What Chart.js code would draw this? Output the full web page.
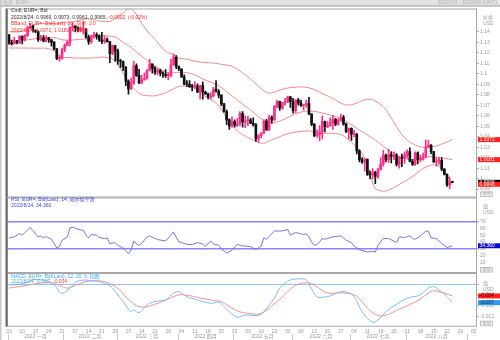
<!DOCTYPE html>
<html lang="zh">
<head>
<meta charset="UTF-8">
<title>EUR= 每天</title>
<script src="https://cdn.jsdelivr.net/npm/chart.js"></script>
<style>
  body { margin: 0; background: #fff; }
  #wrap { position: relative; width: 500px; height: 340px; overflow: hidden; background: #fff; }
  #wrap canvas { position: absolute; left: 0; }
</style>
</head>
<body>
<div id="wrap">
  <canvas id="priceCanvas" width="500" height="198" style="top:0"></canvas>
  <canvas id="rsiCanvas" width="500" height="77" style="top:197px"></canvas>
  <canvas id="macdCanvas" width="500" height="67" style="top:273px"></canvas>
</div>
<script>
// ---- daily EUR= bars, 2022/1/3 .. 2022/8/24 (index 0 = Jan 3, weekdays only) ----
const opens = [
  1.1370,1.1297,1.1287,1.1312,1.1296,1.1358,1.1326,1.1367,1.1440,1.1455,1.1412,1.1404,1.1325,1.1344,1.1311,1.1343,1.1325,1.1302,1.1238,1.1145,1.1147,
  1.1234,1.1271,1.1302,1.1441,1.1455,1.1440,1.1417,1.1425,1.1426,1.1349,1.1307,1.1358,1.1373,1.1360,1.1322,1.1307,1.1327,1.1307,1.1191,1.1270,
  1.1219,1.1124,1.1117,1.1065,1.0929,1.0855,1.0904,1.1077,1.0985,1.0912,1.0941,1.0955,1.1034,1.1092,1.1050,1.1015,1.1031,1.1006,1.0996,1.0983,1.0985,1.1087,1.1160,
  1.1067,1.1046,1.0970,1.0903,1.0900,1.0878,1.0875,1.0886,1.0826,1.0890,1.0825,1.0810,1.0780,1.0788,1.0855,1.0834,1.0797,1.0713,1.0640,1.0560,1.0500,
  1.0545,1.0510,1.0525,1.0620,1.0540,1.0550,1.0560,1.0530,1.0515,1.0380,1.0410,1.0435,1.0550,1.0465,1.0585,1.0560,1.0690,1.0735,1.0675,1.0725,1.0735,1.0780,
  1.0735,1.0650,1.0750,1.0720,1.0695,1.0705,1.0715,1.0615,1.0520,1.0410,1.0420,1.0445,1.0545,1.0495,1.0505,1.0535,1.0565,1.0520,1.0555,1.0585,1.0520,1.0445,
  1.0480,1.0425,1.0425,1.0265,1.0180,1.0160,1.0185,1.0040,1.0035,1.0060,1.0020,1.0085,1.0140,1.0225,1.0180,1.0230,1.0210,1.0225,1.0135,1.0200,1.0195,
  1.0225,1.0260,1.0165,1.0135,1.0245,1.0180,1.0195,1.0210,1.0300,1.0320,1.0255,1.0160,1.0170,1.0175,1.0090,1.0040,0.9940,0.9969
];
const highs = [
  1.1376,1.1321,1.1347,1.1319,1.1365,1.1363,1.1375,1.1454,1.1482,1.1465,1.1420,1.1410,1.1367,1.1368,1.1363,1.1345,1.1330,1.1308,1.1240,1.1174,1.1245,
  1.1285,1.1316,1.1451,1.1483,1.1460,1.1448,1.1448,1.1495,1.1432,1.1370,1.1367,1.1395,1.1390,1.1373,1.1395,1.1360,1.1344,1.1310,1.1274,1.1270,
  1.1235,1.1137,1.1122,1.1070,1.0943,1.0960,1.1121,1.1095,1.1043,1.0986,1.1010,1.1040,1.1137,1.1095,1.1070,1.1050,1.1045,1.1020,1.1040,1.1010,1.1137,1.1185,1.1175,
  1.1075,1.1050,1.0990,1.0935,1.0935,1.0900,1.0925,1.0905,1.0890,1.0924,1.0835,1.0815,1.0820,1.0870,1.0935,1.0850,1.0800,1.0718,1.0655,1.0570,1.0590,
  1.0560,1.0575,1.0640,1.0640,1.0600,1.0595,1.0575,1.0580,1.0525,1.0420,1.0440,1.0560,1.0565,1.0605,1.0600,1.0700,1.0750,1.0740,1.0730,1.0765,1.0787,1.0785,
  1.0765,1.0755,1.0765,1.0750,1.0710,1.0750,1.0775,1.0620,1.0525,1.0465,1.0505,1.0600,1.0550,1.0545,1.0580,1.0605,1.0575,1.0570,1.0615,1.0605,1.0530,1.0485,
  1.0485,1.0460,1.0430,1.0275,1.0200,1.0195,1.0190,1.0075,1.0095,1.0070,1.0100,1.0200,1.0270,1.0235,1.0280,1.0255,1.0255,1.0240,1.0210,1.0235,1.0255,
  1.0275,1.0295,1.0185,1.0255,1.0255,1.0225,1.0245,1.0368,1.0365,1.0325,1.0260,1.0200,1.0200,1.0200,1.0095,1.0045,1.0015,0.9973
];
const lows = [
  1.1281,1.1272,1.1283,1.1285,1.1287,1.1286,1.1314,1.1354,1.1430,1.1398,1.1392,1.1310,1.1315,1.1305,1.1305,1.1300,1.1264,1.1228,1.1135,1.1121,1.1140,
  1.1212,1.1265,1.1265,1.1412,1.1400,1.1400,1.1400,1.1380,1.1340,1.1280,1.1290,1.1340,1.1330,1.1310,1.1287,1.1290,1.1302,1.1106,1.1181,1.1120,
  1.1090,1.1060,1.1030,1.0886,1.0806,1.0850,1.0900,1.0975,1.0905,1.0905,1.0940,1.0950,1.1025,1.1005,1.0995,1.0990,1.0980,1.0965,1.0965,1.0945,1.0970,1.1080,1.1050,
  1.1030,1.0965,1.0895,1.0880,1.0870,1.0837,1.0860,1.0820,1.0760,1.0757,1.0800,1.0760,1.0760,1.0780,1.0825,1.0770,1.0695,1.0635,1.0515,1.0470,1.0490,
  1.0490,1.0495,1.0505,1.0490,1.0485,1.0505,1.0525,1.0500,1.0355,1.0349,1.0390,1.0430,1.0460,1.0460,1.0530,1.0555,1.0675,1.0650,1.0660,1.0700,1.0725,1.0680,
  1.0625,1.0630,1.0700,1.0690,1.0655,1.0680,1.0610,1.0505,1.0400,1.0395,1.0360,1.0380,1.0445,1.0485,1.0500,1.0470,1.0505,1.0510,1.0545,1.0510,1.0440,1.0380,
  1.0365,1.0400,1.0235,1.0160,1.0145,1.0070,1.0030,0.9998,0.9998,0.9952,1.0005,1.0080,1.0120,1.0160,1.0155,1.0150,1.0180,1.0120,1.0100,1.0115,1.0145,
  1.0195,1.0160,1.0125,1.0125,1.0140,1.0160,1.0175,1.0200,1.0295,1.0235,1.0155,1.0120,1.0135,1.0075,1.0035,0.9925,0.9901,0.9961
];
const closes = [
  1.1297,1.1287,1.1312,1.1296,1.1358,1.1326,1.1367,1.1440,1.1455,1.1412,1.1404,1.1325,1.1344,1.1311,1.1343,1.1325,1.1302,1.1238,1.1145,1.1147,1.1234,
  1.1271,1.1302,1.1441,1.1455,1.1440,1.1417,1.1425,1.1426,1.1349,1.1307,1.1358,1.1373,1.1360,1.1322,1.1307,1.1327,1.1307,1.1191,1.1270,1.1219,
  1.1124,1.1117,1.1065,1.0929,1.0855,1.0904,1.1077,1.0985,1.0912,1.0941,1.0955,1.1034,1.1092,1.1050,1.1015,1.1031,1.1006,1.0996,1.0983,1.0985,1.1087,1.1160,1.1067,
  1.1046,1.0970,1.0903,1.0900,1.0878,1.0875,1.0886,1.0826,1.0890,1.0825,1.0810,1.0780,1.0788,1.0855,1.0834,1.0797,1.0713,1.0640,1.0560,1.0500,1.0545,
  1.0510,1.0525,1.0620,1.0540,1.0550,1.0560,1.0530,1.0515,1.0380,1.0410,1.0435,1.0550,1.0465,1.0585,1.0560,1.0690,1.0735,1.0675,1.0725,1.0735,1.0780,1.0735,
  1.0650,1.0750,1.0720,1.0695,1.0705,1.0715,1.0615,1.0520,1.0410,1.0420,1.0445,1.0545,1.0495,1.0505,1.0535,1.0565,1.0520,1.0555,1.0585,1.0520,1.0445,1.0480,
  1.0425,1.0425,1.0265,1.0180,1.0160,1.0185,1.0040,1.0035,1.0060,1.0020,1.0085,1.0140,1.0225,1.0180,1.0230,1.0210,1.0225,1.0135,1.0200,1.0195,1.0225,
  1.0260,1.0165,1.0135,1.0245,1.0180,1.0195,1.0210,1.0300,1.0320,1.0255,1.0160,1.0170,1.0175,1.0090,1.0040,0.9940,0.9967,0.9965
];

// Bollinger (20, 2.0) read at these bar indices
const bandDays = [0,5,10,15,18,20,23,25,28,30,33,35,38,40,43,45,47,50,53,55,58,60,62,64,67,70,73,75,78,80,83,85,88,91,94,96,98,101,104,107,110,113,116,119,122,125,128,131,133,136,138,141,143,146,148,150,153,156,158,161,164,167];
const bandUpper = [1.1400,1.1405,1.1470,1.1480,1.1480,1.1490,1.1485,1.1500,1.1520,1.1525,1.1510,1.1500,1.1500,1.1530,1.1580,1.1620,1.1600,1.1480,1.1380,1.1330,1.1240,1.1200,1.1190,1.1150,1.1140,1.1120,1.1110,1.1105,1.1100,1.1090,1.1080,1.1060,1.1010,1.0950,1.0880,1.0840,1.0815,1.0835,1.0860,1.0870,1.0875,1.0867,1.0840,1.0800,1.0766,1.0720,1.0702,1.0720,1.0745,1.0757,1.0740,1.0686,1.0620,1.0495,1.0420,1.0368,1.0320,1.0299,1.0300,1.0311,1.0340,1.0372];
const bandMid = [1.1320,1.1318,1.1335,1.1345,1.1340,1.1325,1.1320,1.1325,1.1330,1.1335,1.1360,1.1365,1.1360,1.1350,1.1300,1.1270,1.1230,1.1165,1.1110,1.1070,1.1030,1.1010,1.1010,1.1015,1.1010,1.0990,1.0950,1.0930,1.0900,1.0870,1.0810,1.0770,1.0710,1.0655,1.0590,1.0555,1.0528,1.0540,1.0570,1.0610,1.0635,1.0645,1.0638,1.0620,1.0600,1.0575,1.0530,1.0480,1.0450,1.0400,1.0368,1.0310,1.0273,1.0225,1.0200,1.0185,1.0177,1.0185,1.0209,1.0205,1.0195,1.0181];
const bandLower = [1.1246,1.1246,1.1244,1.1240,1.1200,1.1160,1.1155,1.1150,1.1150,1.1150,1.1155,1.1160,1.1150,1.1120,1.1007,1.0920,1.0860,1.0800,1.0790,1.0790,1.0810,1.0830,1.0855,1.0880,1.0880,1.0860,1.0800,1.0770,1.0720,1.0660,1.0540,1.0480,1.0420,1.0380,1.0345,1.0337,1.0360,1.0390,1.0420,1.0440,1.0450,1.0455,1.0440,1.0432,1.0432,1.0420,1.0368,1.0300,1.0241,1.0040,0.9907,0.9880,0.9891,0.9930,0.9960,0.9987,1.0040,1.0098,1.0120,1.0130,1.0070,0.9946];

// RSI (14, Wilder)
const rsiDays = [0,2,4,5,7,8,9,11,12,13,14,16,18,19,20,22,23,24,25,27,28,29,30,31,33,34,36,37,38,40,41,43,44,45,46,47,48,49,50,52,53,54,56,59,61,62,63,64,67,69,71,73,74,76,77,79,80,82,84,86,88,89,91,93,95,96,97,98,100,102,103,105,106,108,109,111,112,113,114,115,116,117,118,119,122,125,127,129,130,132,133,135,137,138,139,141,143,144,146,147,149,151,152,153,155,157,158,159,161,163,165,166,167];
const rsiValues = [46,47.5,52.5,50,58,61.5,57,47.5,49,46,48,44,31,33,42.5,47.5,61,62,60,58,57.5,50,46,51,50,46.5,45,46,37.5,39,35,31,27,22.5,28,41.5,37,35,38,47.5,49,47,43.5,41.5,50,55,47,40,36.5,36,39,37,33.5,41.5,37,35,30,23.5,27.5,36.5,34,34,33,28.5,34,46,44,48,56.5,56,56.5,58.5,50,54,53,51,52,47.5,40,35,36,40,45,44,47.5,49,42.5,39,34,28.5,27.5,25,26,25,35,45,45,43,39,47.5,46.5,49,45,44,49,56,56,46,45,38,31.5,33,34.36];
const rsiLevels = [70, 30];

// MACD (12, 26, 9)
const macdDays = [0,3,6,9,12,15,17,18,19,20,21,23,25,27,29,31,34,37,39,41,43,45,46,47,49,52,54,57,59,62,64,67,70,72,76,79,81,83,86,89,93,95,97,100,102,104,106,109,112,114,116,118,121,125,128,130,132,134,137,139,142,145,150,155,158,160,162,165,167];
const macdValues = [-0.0002,-0.0001,0.0005,0.0017,0.0017,0.0010,-0.0002,-0.0014,-0.0029,-0.0033,-0.0030,-0.0014,0.0008,0.0014,0.0016,0.0013,0.0010,0.0000,-0.0014,-0.0039,-0.0065,-0.0092,-0.0102,-0.0095,-0.0105,-0.0077,-0.0066,-0.0061,-0.0058,-0.0033,-0.0027,-0.0046,-0.0055,-0.0061,-0.0070,-0.0067,-0.0083,-0.0102,-0.0122,-0.0114,-0.0116,-0.0111,-0.0089,-0.0051,-0.0014,0.0005,0.0016,0.0020,0.0016,-0.0018,-0.0046,-0.0048,-0.0043,-0.0027,-0.0032,-0.0046,-0.0083,-0.0114,-0.0140,-0.0132,-0.0102,-0.0080,-0.0052,-0.0039,-0.0014,-0.0009,-0.0021,-0.0046,-0.0068];
const signalDays = [0,6,10,15,18,20,22,25,29,33,36,39,42,44,47,49,52,54,57,59,62,64,68,72,76,80,84,87,91,94,97,99,102,105,108,111,114,117,120,125,130,133,135,138,140,143,146,150,155,158,160,163,165,167];
const signalValues = [-0.0014,-0.0005,0.0002,0.0006,0.0000,-0.0009,-0.0014,-0.0004,0.0010,0.0013,0.0010,-0.0002,-0.0024,-0.0047,-0.0072,-0.0083,-0.0083,-0.0077,-0.0067,-0.0058,-0.0046,-0.0039,-0.0042,-0.0051,-0.0058,-0.0065,-0.0088,-0.0102,-0.0109,-0.0110,-0.0097,-0.0080,-0.0055,-0.0027,-0.0004,0.0005,0.0002,-0.0016,-0.0032,-0.0032,-0.0039,-0.0065,-0.0088,-0.0111,-0.0117,-0.0111,-0.0097,-0.0080,-0.0054,-0.0032,-0.0024,-0.0030,-0.0036,-0.0043];

// axis labels
const weekLabels = ['03','10','17','24','31','07','14','21','28','07','14','21','28','04','11','18','25','02','09','16','23','30','06','13','20','27','04','11','18','25','01','08','15','22','29','05'];
const monthLabels = ['2022 一月','2022 二月','2022 三月','2022 四月','2022 五月','2022 六月','2022 七月','2022 八月'];
const monthStarts = [0,21,41,64,85,107,129,150,173];
const priceTicks = [0.99,1.00,1.01,1.02,1.03,1.04,1.05,1.06,1.07,1.08,1.09,1.10,1.11,1.12,1.13,1.14];
const rsiTicks = [10,20,30,40,50,60,70];
const macdTicks = [-0.012,-0.008,-0.004];
const lastDate = '2022/8/24';

// ---- look ----
const FONT = "'Liberation Sans', 'Noto Sans CJK SC', sans-serif";
const X_MIN = -0.75, X_MAX = 176.3;
const AXIS_W = 23;
const UP = '#ff2d8c', DOWN = '#111111';
const BAND = '#f48a84';
const GREY_TXT = '#9a9a9a';

const pts = (xs, ys) => xs.map((x, i) => ({ x, y: ys[i] }));
const candleColors = closes.map((c, i) => c >= opens[i] ? UP : DOWN);
const last = a => a[a.length - 1];

function fixAxis(scale) {
  scale.width = AXIS_W;
  scale.paddingTop = 0;
  scale.paddingBottom = 0;
}

function yAxis(min, max, ticks, fmt) {
  return {
    position: 'right', min, max,
    afterBuildTicks: s => { s.ticks = ticks.map(v => ({ value: v })); },
    afterFit: fixAxis,
    grid: { drawOnChartArea: false, tickLength: 2, color: '#b5b5b5' },
    border: { display: false },
    ticks: { autoSkip: false, padding: 1, color: GREY_TXT, font: { size: 5, family: FONT }, callback: fmt }
  };
}

function xAxis(show) {
  return {
    type: 'linear', min: X_MIN, max: X_MAX, offset: false, display: show,
    grid: { display: false }, border: { display: false }
  };
}

function drawRuns(ctx, x, y, runs) {
  for (const [text, color] of runs) {
    ctx.fillStyle = color;
    ctx.fillText(text, x, y);
    x += ctx.measureText(text).width;
  }
}

// frame, captions, unit title, value badges and the small 自动 button of each pane
const panelDecor = {
  id: 'panelDecor',
  afterDraw(chart, args, o) {
    const { ctx, chartArea: a } = chart;
    const ys = chart.scales.y;
    ctx.save();
    if (o.topBar) {
      ctx.fillStyle = '#e3e3e3';
      ctx.fillRect(0, 0, 500, 6);
      ctx.fillStyle = '#9a9a9a';
      ctx.fillRect(0, 5.5, 500, 1);
      ctx.font = `5px ${FONT}`;
      ctx.textBaseline = 'middle';
      ctx.fillStyle = '#b0b0b0';
      ctx.textAlign = 'left';
      ctx.fillText(o.topBar[0], 3, 3);
      ctx.textAlign = 'right';
      ctx.fillText(o.topBar[1], 497, 3);
      ctx.textAlign = 'left';
    }
    ctx.strokeStyle = '#a8a8a8';
    ctx.lineWidth = 1;
    ctx.strokeRect(a.left + 0.5, a.top + 0.5, a.right - a.left - 1, a.bottom - a.top - 1);
    ctx.fillStyle = '#6a6a6a';
    ctx.fillRect(a.left - 1.5, a.top, 2, a.bottom - a.top);
    ctx.fillStyle = '#c8c8c8';
    ctx.fillRect(0, 0, 1.5, chart.height);

    ctx.font = `5px ${FONT}`;
    ctx.textBaseline = 'middle';
    o.captions.forEach((runs, i) => drawRuns(ctx, a.left + 4, a.top + o.capTop + i * o.capStep, runs));

    ctx.fillStyle = GREY_TXT;
    ctx.fillText(o.unit[0], a.right + 6, a.top + o.unitTop);
    ctx.fillText(o.unit[1], a.right + 6, a.top + o.unitTop + 6);

    for (const b of o.badges) {
      const y = ys.getPixelForValue(b.value);
      ctx.fillStyle = b.bg;
      ctx.fillRect(a.right + 1, y - 2.5, AXIS_W - 1, 5);
      ctx.fillStyle = b.fg;
      ctx.fillText(b.text, a.right + 2.5, y + 0.2);
    }

    ctx.fillStyle = '#eeeeee';
    ctx.fillRect(a.right + 3, a.bottom - 6, 13, 5.5);
    ctx.strokeStyle = '#c4c4c4';
    ctx.strokeRect(a.right + 3.5, a.bottom - 5.5, 12, 4.5);
    ctx.fillStyle = '#a0a0a0';
    ctx.font = `4px ${FONT}`;
    ctx.fillText('自动', a.right + 5.5, a.bottom - 3.2);
    ctx.restore();
  }
};

// month row under the date ticks
const monthRow = {
  id: 'monthRow',
  afterDraw(chart) {
    const { ctx, chartArea: a } = chart;
    const xs = chart.scales.x;
    ctx.save();
    ctx.strokeStyle = '#c8c8c8';
    ctx.lineWidth = 1;
    ctx.font = `5px ${FONT}`;
    ctx.fillStyle = GREY_TXT;
    ctx.textAlign = 'center';
    ctx.textBaseline = 'middle';
    const edge = i => xs.getPixelForValue(monthStarts[i] - 0.5);
    for (let i = 0; i < monthStarts.length; i++) {
      const x = Math.round(edge(i)) + 0.5;
      ctx.beginPath();
      ctx.moveTo(x, a.bottom + 7);
      ctx.lineTo(x, chart.height);
      ctx.stroke();
      if (i < monthLabels.length) ctx.fillText(monthLabels[i], (edge(i) + edge(i + 1)) / 2, a.bottom + 9.5);
    }
    ctx.restore();
  }
};

const common = {
  responsive: false, animation: false, events: [], devicePixelRatio: 1,
};
const noPlugins = { legend: { display: false }, tooltip: { enabled: false } };

// ---- price pane ----
const chg = last(closes) - closes[closes.length - 2];
const chgPct = chg / closes[closes.length - 2] * 100;
const f4 = v => v.toFixed(4);

new Chart(document.getElementById('priceCanvas'), {
  type: 'bar',
  data: {
    datasets: [
      { type: 'line', data: pts(bandDays, bandUpper), borderColor: BAND, borderWidth: 1, pointRadius: 0, tension: 0.35, order: 3 },
      { type: 'line', data: pts(bandDays, bandMid), borderColor: BAND, borderWidth: 1, pointRadius: 0, tension: 0.35, order: 3 },
      { type: 'line', data: pts(bandDays, bandLower), borderColor: BAND, borderWidth: 1, pointRadius: 0, tension: 0.35, order: 3 },
      { data: lows.map((l, i) => ({ x: i, y: [l, highs[i]] })), backgroundColor: candleColors, barThickness: 1, grouped: false, order: 2 },
      { data: opens.map((o, i) => ({ x: i, y: [o, closes[i]] })), backgroundColor: candleColors, barThickness: 2, minBarLength: 1, grouped: false, order: 1 }
    ]
  },
  options: {
    ...common,
    layout: { padding: { left: 7, top: 8.5, right: 0, bottom: 0.5 } },
    scales: {
      x: xAxis(false),
      y: yAxis(0.9820, 1.1623, priceTicks, v => String(+v.toFixed(2)))
    },
    plugins: {
      ...noPlugins,
      panelDecor: {
        topBar: ['每天  EUR=', '2022/1/3 - 2022/8/6 (GMT)'],
        capTop: 2.5, capStep: 6.4,
        captions: [
          [['Cndl, EUR=, Bid', '#333']],
          [[`${lastDate}, ${f4(last(opens))}, ${f4(last(highs))}, ${f4(last(lows))}, ${f4(last(closes))}, `, '#333'],
           [`${f4(chg)}, (${chgPct.toFixed(2)}%)`, '#ff2020']],
          [['BBand, EUR=, Bid(Last), 20, 简单, 2.0', '#ff3030']],
          [[`${lastDate}, ${f4(last(bandUpper))}, ${f4(last(bandMid))}, ${f4(last(bandLower))}`, '#ff3030']]
        ],
        unit: ['价格', 'USD'], unitTop: 9.5,
        badges: [
          { value: last(bandUpper), text: f4(last(bandUpper)), bg: '#ff2020', fg: '#ffe8e8' },
          { value: last(bandMid), text: f4(last(bandMid)), bg: '#ff2020', fg: '#ffe8e8' },
          { value: last(closes), text: f4(last(closes)), bg: '#000', fg: '#fff' },
          { value: last(bandLower), text: f4(last(bandLower)), bg: '#ff2020', fg: '#ffe8e8' }
        ]
      }
    }
  },
  plugins: [panelDecor]
});

// ---- RSI pane ----
new Chart(document.getElementById('rsiCanvas'), {
  type: 'line',
  data: {
    datasets: [
      { data: pts(rsiDays, rsiValues), borderColor: '#7474ee', borderWidth: 1, pointRadius: 0, tension: 0 }
    ]
  },
  options: {
    ...common,
    layout: { padding: { left: 7, top: 0.5, right: 0, bottom: 1 } },
    scales: {
      x: xAxis(false),
      y: {
        ...yAxis(-6, 105.85, rsiTicks, v => String(v)),
        grid: {
          drawOnChartArea: true, tickLength: 2, tickColor: '#b5b5b5',
          color: c => rsiLevels.includes(c.tick.value) ? '#8585ff' : 'rgba(0,0,0,0)',
          lineWidth: c => rsiLevels.includes(c.tick.value) ? 1.5 : 0
        }
      }
    },
    plugins: {
      ...noPlugins,
      panelDecor: {
        capTop: 2, capStep: 6.5,
        captions: [
          [['RSI, EUR=, Bid(Last), 14, 威尔德平滑', '#3a4ae0']],
          [[`${lastDate}, ${last(rsiValues).toFixed(3)}`, '#3a4ae0']]
        ],
        unit: ['值', 'USD'], unitTop: 9,
        badges: [{ value: last(rsiValues), text: last(rsiValues).toFixed(3), bg: '#0a0ad0', fg: '#fff' }]
      }
    }
  },
  plugins: [panelDecor]
});

// ---- MACD pane ----
new Chart(document.getElementById('macdCanvas'), {
  type: 'line',
  data: {
    datasets: [
      { data: pts(macdDays, macdValues), borderColor: '#72bdf6', borderWidth: 1, pointRadius: 0, tension: 0.4 },
      { data: pts(signalDays, signalValues), borderColor: '#f58c8c', borderWidth: 1, pointRadius: 0, tension: 0.4 }
    ]
  },
  options: {
    ...common,
    layout: { padding: { left: 7, top: 0, right: 0, bottom: 0 } },
    scales: {
      x: {
        ...xAxis(true),
        afterFit: s => { s.height = 13.3; },
        afterBuildTicks: s => { s.ticks = weekLabels.map((_, i) => ({ value: i * 5 })); },
        grid: { display: true, drawOnChartArea: false, drawTicks: false },
        ticks: { autoSkip: false, maxRotation: 0, padding: 1.5, color: GREY_TXT, font: { size: 5, family: FONT },
                 callback: v => weekLabels[Math.round(v / 5)] }
      },
      y: {
        ...yAxis(-0.0157, 0.00419, macdTicks, v => v.toFixed(3)),
        grid: {
          drawOnChartArea: true, tickLength: 2, tickColor: '#b5b5b5',
          color: c => c.tick.value === 0 ? '#8cc8f5' : 'rgba(0,0,0,0)'
        },
        afterBuildTicks: s => { s.ticks = [0, ...macdTicks].map(v => ({ value: v })); },
        ticks: { autoSkip: false, padding: 1, color: GREY_TXT, font: { size: 5, family: FONT },
                 callback: v => v === 0 ? '' : v.toFixed(3) }
      }
    },
    plugins: {
      ...noPlugins,
      panelDecor: {
        capTop: 3.7, capStep: 5,
        captions: [
          [['MACD, EUR=, Bid(Last), 12, 26, 9, 指数', '#4aa6ee']],
          [[`${lastDate}, ${last(macdValues).toFixed(3)}, `, '#4aa6ee'], [last(signalValues).toFixed(3), '#ff3030']]
        ],
        unit: ['值', 'USD'], unitTop: 10.3,
        badges: [
          { value: last(signalValues), text: last(signalValues).toFixed(3), bg: '#ff2020', fg: '#400000' },
          { value: last(macdValues), text: last(macdValues).toFixed(3), bg: '#2c9cf0', fg: '#002040' }
        ]
      }
    }
  },
  plugins: [panelDecor, monthRow]
});
</script>
</body>
</html>
